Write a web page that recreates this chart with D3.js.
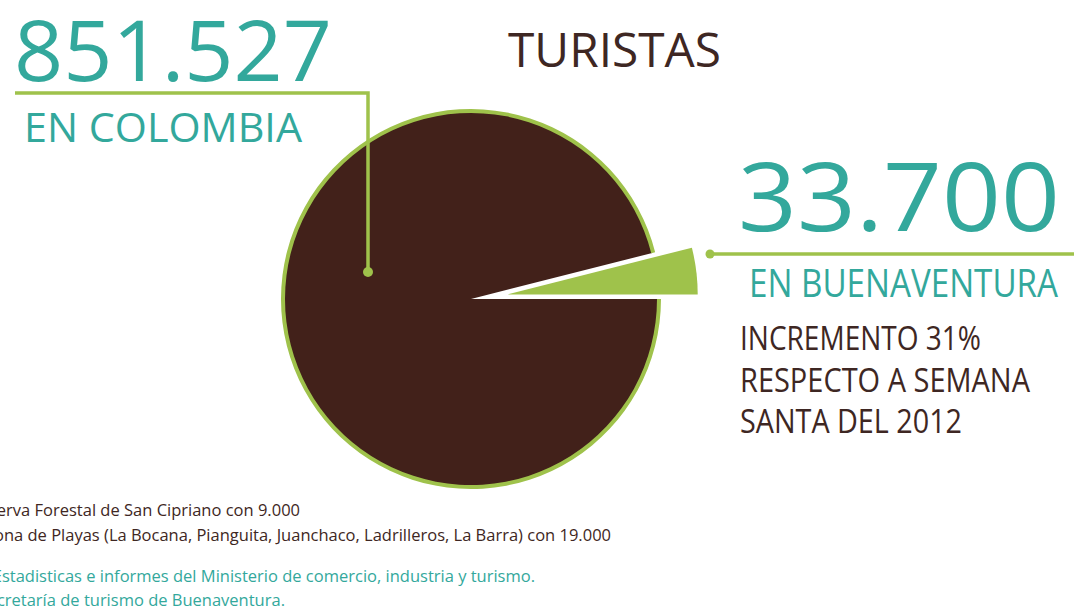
<!DOCTYPE html>
<html lang="es">
  <head>
    <meta charset="UTF-8" />
    <title>Turistas</title>
    <script src="https://d3js.org/d3.v7.min.js"></script>
    <style>
      body { margin: 0; background: #fff; }
      svg { display: block; font-family: "Open Sans", sans-serif; }
    </style>
  </head>
  <body>
    <div id="chart"></div>
    <script>
      // values read from the infographic
      const places = ["EN COLOMBIA", "EN BUENAVENTURA"];
      const tourists = [851527, 33700];
      const touristLabels = ["851.527", "33.700"];
      const title = "TURISTAS";
      const noteLines = [
        "INCREMENTO 31%",
        "RESPECTO A SEMANA",
        "SANTA DEL 2012",
      ];
      const footLines = [
        "Reserva Forestal de San Cipriano con 9.000",
        "Zona de Playas (La Bocana, Pianguita, Juanchaco, Ladrilleros, La Barra) con 19.000",
        "Fuente: Estadisticas e informes del Ministerio de comercio, industria y turismo.",
        "Secretaría de turismo de Buenaventura.",
      ];

      const width = 1079;
      const height = 612;
      const teal = "#33a89c";
      const brown = "#42211a";
      const green = "#9fc24b";
      const darkText = "#3e2723";

      const svg = d3
        .select("#chart")
        .append("svg")
        .attr("width", width)
        .attr("height", height);

      // pie: Buenaventura is part of the Colombia total
      const pieData = [tourists[0] - tourists[1], tourists[1]];
      const cx = 471;
      const cy = 299;
      const r = 190;

      const pie = d3
        .pie()
        .sort(null)
        .startAngle(Math.PI / 2)
        .endAngle(Math.PI / 2 + 2 * Math.PI);
      const slices = pie(pieData);

      const arc = d3.arc().innerRadius(0).outerRadius(r - 3);
      const rim = d3.arc().innerRadius(r - 4).outerRadius(r);
      const fullArc = d3.arc().innerRadius(0).outerRadius(r);

      const g = svg.append("g").attr("transform", `translate(${cx},${cy})`);

      // brown slice with green rim
      g.append("path").attr("d", arc(slices[0])).attr("fill", brown);
      g.append("path").attr("d", rim(slices[0])).attr("fill", green);

      // exploded green slice
      const mid = (slices[1].startAngle + slices[1].endAngle) / 2;
      const pull = 37;
      g.append("path")
        .attr("d", fullArc(slices[1]))
        .attr("fill", green)
        .attr(
          "transform",
          `translate(${pull * Math.sin(mid)},${-pull * Math.cos(mid)})`
        );

      // callout: Colombia
      const line1 = d3.line();
      svg
        .append("path")
        .attr("d", line1([[15, 93], [368, 93], [368, 272]]))
        .attr("fill", "none")
        .attr("stroke", green)
        .attr("stroke-width", 3.5);
      svg.append("circle").attr("cx", 368).attr("cy", 272).attr("r", 5).attr("fill", green);

      // callout: Buenaventura
      svg
        .append("line")
        .attr("x1", 710)
        .attr("x2", 1074)
        .attr("y1", 254)
        .attr("y2", 254)
        .attr("stroke", green)
        .attr("stroke-width", 3.5);
      svg.append("circle").attr("cx", 710).attr("cy", 254).attr("r", 4.5).attr("fill", green);

      function addText(txt, x, y, size, fill, len) {
        const t = svg
          .append("text")
          .attr("x", x)
          .attr("y", y)
          .attr("font-size", size)
          .attr("fill", fill)
          .text(txt);
        if (len) t.attr("textLength", len).attr("lengthAdjust", "spacingAndGlyphs");
        return t;
      }

      addText(touristLabels[0], 14, 81, 85, teal, 318);
      addText(places[0], 24, 142, 41, teal, 278);
      addText(title, 508, 67, 47, darkText, 213);
      addText(touristLabels[1], 738, 231, 96, teal, 322);
      addText(places[1], 749, 297, 38, teal, 309);

      const noteLens = [241, 290, 222];
      noteLines.forEach((d, i) => {
        addText(d, 740, 350 + i * 41.5, 33, darkText, noteLens[i]);
      });

      // footnotes run off the left edge in the original
      const footEnds = [300, 611, 535, 285];
      const footY = [516, 541, 582, 606];
      const footColors = [darkText, darkText, teal, teal];
      footLines.forEach((d, i) => {
        addText(d, footEnds[i], footY[i], 16.5, footColors[i]).attr("text-anchor", "end");
      });
    </script>
  </body>
</html>
